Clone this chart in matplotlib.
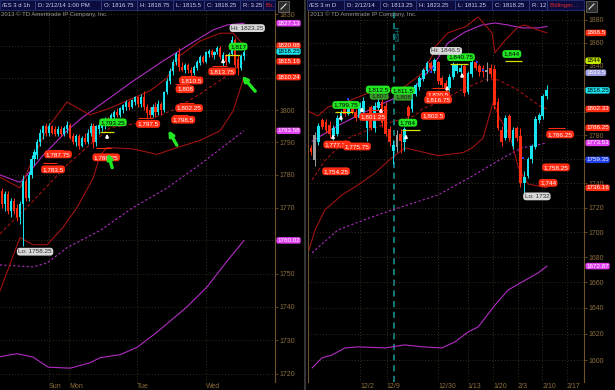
import matplotlib.pyplot as plt
from matplotlib import transforms
from matplotlib.lines import Line2D
from matplotlib.patches import Rectangle
from matplotlib.ticker import FixedLocator, NullLocator, FuncFormatter

plt.rcParams['font.family'] = ['Liberation Sans', 'DejaVu Sans']

# ---------------- left chart: /ES 3 d 1h ----------------
l_open = [1775, 1771, 1774, 1769, 1772, 1770, 1767, 1771, 1778, 1773,
          1780, 1785, 1786, 1790, 1793, 1795, 1793, 1795, 1794, 1792.5,
          1794, 1792.5, 1794, 1795.5, 1792, 1790, 1792, 1789, 1791.5, 1790,
          1793, 1795, 1790, 1794, 1794.5, 1795, 1797, 1796, 1798, 1799.5,
          1798.5, 1800, 1801, 1802.5, 1801, 1802.5, 1804, 1802, 1804, 1801,
          1800, 1798.5, 1801, 1799.5, 1802, 1800, 1805.5, 1809, 1812, 1815,
          1817.5, 1813.5, 1812.5, 1814, 1812.5, 1811.5, 1813, 1814.5, 1816.5, 1815,
          1817.5, 1818.5, 1817, 1818, 1819.5, 1815, 1817, 1815, 1817.5, 1822,
          1816, 1813, 1816.75]
l_high = [1776, 1775, 1775, 1773, 1773, 1771, 1772, 1780, 1779, 1781,
          1786, 1788, 1791, 1794, 1795.5, 1796, 1796, 1795.5, 1795, 1795,
          1795, 1795, 1796.5, 1796, 1793, 1792.5, 1792.5, 1792, 1793, 1794,
          1796, 1796, 1795.5, 1796, 1797, 1798, 1798, 1799, 1800, 1800.5,
          1801, 1802, 1803, 1803, 1803.5, 1804.5, 1804.5, 1805, 1806, 1802,
          1801, 1802, 1802.5, 1803, 1802.5, 1806, 1810, 1813, 1816, 1818,
          1819.5, 1815, 1814.5, 1814.5, 1813.5, 1814, 1815.5, 1817, 1817, 1818.5,
          1819, 1819, 1818.5, 1820, 1820, 1818, 1817.5, 1818, 1823.25, 1822.5,
          1817, 1817.5, 1818.75]
l_low = [1770, 1769, 1768, 1767, 1768, 1766, 1765, 1758.25, 1772, 1772,
         1779, 1783, 1785, 1789, 1791, 1792, 1792, 1792.5, 1792, 1792,
         1792, 1792, 1793, 1791, 1789.5, 1789, 1788, 1788.5, 1789.5, 1789.5,
         1792, 1788.25, 1789, 1792.5, 1793.5, 1794, 1795, 1795.5, 1797, 1798,
         1798, 1799, 1800, 1800, 1800.5, 1801.5, 1801, 1801, 1800, 1797.5,
         1797.5, 1798, 1798, 1798.5, 1798.5, 1799.5, 1805, 1808, 1811, 1814,
         1812, 1812, 1811.5, 1811.5, 1810.5, 1811, 1812.5, 1814, 1814.5, 1814.5,
         1816.5, 1816.5, 1816, 1817.5, 1816, 1813.75, 1814, 1814.5, 1817, 1813,
         1811, 1812.5, 1815.5]
l_close = [1771, 1774, 1769, 1772, 1769, 1767, 1771, 1778, 1773, 1780,
           1785, 1787, 1790, 1793, 1795, 1793, 1795, 1793, 1792.5, 1794,
           1792.5, 1794.5, 1795.5, 1791.5, 1790, 1792, 1789, 1791.5, 1790, 1793,
           1795, 1790, 1795, 1795.5, 1796.5, 1797, 1796, 1798.5, 1799.5, 1798.5,
           1800.5, 1801.5, 1802.5, 1801, 1803, 1804, 1802, 1804, 1801, 1799,
           1798.5, 1801, 1799.5, 1802, 1800, 1805.5, 1809, 1812, 1815, 1817.5,
           1813.5, 1812.5, 1814, 1812.5, 1811.5, 1813.5, 1815, 1816.5, 1815, 1818,
           1818.5, 1817, 1818, 1819.5, 1816.5, 1817, 1815, 1817.5, 1822, 1814,
           1813, 1816.75, 1818.25]

# bollinger (dark red) and wider band (magenta), read at a few bars
l_bb_up_x = [-0.7, 6.1, 10.5, 15.3, 22.0, 29.8, 36.6, 44.4, 50.2, 55.9, 60.3, 67.1, 73.9, 78.3, 82.0]
l_bb_up = [1779.3, 1776, 1785, 1794.3, 1802.5, 1798.5, 1800.6, 1803.7, 1806, 1810, 1817, 1821.5, 1824, 1824, 1820.08]
l_bb_mid_x = [-0.7, 10.5, 22.0, 27.5, 36.6, 46.8, 58.0, 67.1, 78.3, 82.0]
l_bb_mid = [1762, 1772, 1783, 1787.5, 1794.5, 1796, 1800, 1805, 1812, 1815.16]
l_bb_lo_x = [-0.7, 6.1, 10.5, 15.3, 20.7, 25.4, 30.9, 33.2, 35.6, 44.4, 52.5, 59.3, 67.1, 73.9, 78.3, 82.0]
l_bb_lo = [1744.7, 1760.9, 1758.7, 1758.7, 1764, 1770, 1779, 1786, 1788.4, 1788, 1786.3, 1788.4, 1790.6, 1793.6, 1799.7, 1810.24]
l_ma_up_x = [-0.7, 6.1, 8.5, 13.9, 22.0, 27.1, 33.2, 44.4, 54.6, 62.7, 71.5, 76.3, 82.0]
l_ma_up = [1780, 1777.7, 1780, 1786, 1793.6, 1797.6, 1801.6, 1809, 1815.3, 1820, 1825, 1826.6, 1827.13]
l_ma_mid_x = [-0.7, 10.5, 15.3, 22.0, 33.2, 44.4, 55.9, 67.1, 82.0]
l_ma_mid = [1752.6, 1752, 1753.2, 1757.8, 1763, 1770, 1776, 1783.2, 1793.58]
l_ma_lo_x = [-0.7, 5.1, 10.5, 15.6, 23.1, 29.8, 33.2, 40.0, 45.8, 52.5, 62.7, 69.5, 76.3, 80.0, 82.0]
l_ma_lo = [1725.1, 1726, 1725, 1722, 1721.7, 1723.3, 1724.8, 1725.7, 1727.9, 1732.4, 1740, 1746, 1753.8, 1757.8, 1760.02]

l_yticks = [1720, 1730, 1740, 1750, 1760, 1770, 1780, 1790, 1800, 1810, 1820, 1830]
l_yhidden = [1760, 1810, 1820]
l_days = ['Sun', 'Mon', 'Tue', 'Wed']
l_day_pos = [15.9, 22.7, 45.8, 69.2]

l_red_text = ['1,787.75', '1,783.5', '1,788.25', '1,797.5', '1,798.5', '1,802.25', '1,808', '1,810.5', '1,813.75']
l_red_pos = [(19.0, 1786.3), (17.3, 1781.7), (35.3, 1785.4), (49.5, 1795.7), (61.4, 1797.0),
             (63.4, 1800.6), (62.0, 1806.5), (64.1, 1809.2), (74.6, 1812.0)]
l_green_text = ['1,793.25', '1,817']
l_green_val = [1793.25, 1817]
l_green_pos = [(37.6, 1796.2), (80.0, 1819.8)]
l_tags = ['1827.13', '1820.08', '1818.25', '1815.16', '1810.24', '1793.58', '1760.02']
l_tag_val = [1827.13, 1820.08, 1818.25, 1815.16, 1810.24, 1793.58, 1760.02]
l_tag_col = ['mag', 'red', 'cyan', 'red', 'red', 'mag', 'mag']

# ---------------- right chart: /ES 3 m D ----------------
r_open = [1769, 1759, 1774, 1793, 1791, 1789, 1779, 1781, 1794, 1803,
          1798, 1806, 1800, 1795, 1800, 1786, 1804, 1786, 1803, 1808,
          1805, 1785, 1767, 1770, 1781, 1774, 1804, 1802, 1815, 1821,
          1828, 1835, 1842, 1835, 1843, 1829, 1825, 1820, 1830, 1835,
          1834, 1839, 1817, 1832, 1843, 1839, 1838, 1834, 1838, 1837,
          1808, 1784, 1778, 1796, 1771, 1786, 1779, 1740, 1746, 1760,
          1770, 1793, 1796, 1813.25]
r_high = [1772, 1783, 1790, 1795, 1794, 1792, 1789, 1797, 1801, 1805,
          1810, 1808, 1802, 1808, 1812.5, 1799, 1806, 1808, 1812, 1811,
          1808, 1788, 1776, 1784, 1785, 1787, 1806, 1817, 1825, 1831,
          1838, 1844, 1844, 1846.5, 1844, 1831, 1827, 1832, 1843, 1842,
          1840.75, 1841, 1835, 1845, 1845, 1841, 1840, 1843, 1841, 1840,
          1812, 1788, 1797, 1798, 1787, 1788, 1786.25, 1750, 1762, 1773,
          1796, 1799, 1815, 1823.25]
r_low = [1763, 1754.25, 1772, 1785, 1782, 1777.75, 1775.75, 1779, 1792, 1796,
         1797, 1798, 1792, 1793, 1798, 1775, 1784, 1783, 1801.25, 1787,
         1779, 1771, 1756, 1766, 1765, 1767, 1793, 1800, 1813, 1819,
         1826, 1833, 1835, 1833, 1824, 1821, 1816.75, 1818, 1828, 1833,
         1831, 1813, 1815, 1830, 1836, 1831, 1830, 1826, 1829, 1802,
         1784, 1771, 1776, 1775, 1768, 1775, 1737, 1732, 1744, 1757,
         1768, 1790, 1794, 1811.25]
r_close = [1765.5, 1780, 1788, 1787, 1784, 1781, 1786, 1795, 1799.75, 1798,
           1806, 1800, 1795, 1806, 1809, 1797, 1786, 1805, 1808, 1790,
           1781, 1774, 1772, 1780, 1775, 1785, 1796, 1815, 1823, 1829,
           1836, 1842, 1838, 1844.5, 1826, 1823, 1820.5, 1830, 1841, 1840,
           1838, 1816, 1833, 1843, 1838, 1834, 1834, 1836, 1832, 1806,
           1786, 1774, 1795, 1778, 1784, 1778, 1740, 1745, 1760, 1771,
           1794, 1797, 1813, 1818.25]
r_gray = [1, 23, 47]

r_bb_up_x = [-0.8, 1.9, 4.5, 9.9, 16.3, 19.8, 25.1, 29.7, 32.4, 33.2, 36.6, 41.2, 44.7, 48.4, 49.2, 51.9, 55.4, 57.2, 60.7, 63.1]
r_bb_up = [1800.5, 1796.4, 1803.9, 1808.9, 1817.3, 1816.4, 1821.5, 1833, 1848, 1856.2, 1868.5, 1873.8, 1882.7, 1868.5, 1851, 1862, 1873.8, 1875.5, 1871, 1868.5]
r_bb_mid_x = [0.3, 3.7, 9.9, 16.3, 21.7, 27.8, 29.7, 34.0, 40.4, 46.5, 50.0, 55.1, 61.2, 63.1]
r_bb_mid = [1742.6, 1758.7, 1777.5, 1785.6, 1791.4, 1796.4, 1802.2, 1808.1, 1819, 1827.4, 1827.4, 1819, 1804.7, 1802.33]
r_bb_lo_x = [-0.8, 1.1, 3.7, 8.3, 12.6, 17.1, 21.7, 25.1, 29.7, 34.0, 40.6, 43.1, 46.0, 48.7, 50.5, 53.2, 55.4, 58.0, 63.1]
r_bb_lo = [1683.4, 1701.8, 1718, 1730.3, 1738.5, 1748.4, 1761.2, 1769.3, 1766, 1762.8, 1765.3, 1769.3, 1777.5, 1808.1, 1793.9, 1779.9, 1753.1, 1739.4, 1736.16]
r_ma_up_x = [0.3, 7.2, 14.4, 21.7, 27.8, 32.4, 36.6, 41.2, 45.7, 49.2, 52.7, 56.4, 60.7, 63.1]
r_ma_up = [1775, 1788.1, 1799.7, 1810.6, 1821.5, 1838.6, 1859.6, 1869.3, 1875.5, 1877.3, 1875.5, 1872.9, 1872.9, 1874.15]
r_ma_mid_x = [0.3, 7.2, 16.3, 21.7, 34.0, 43.1, 51.9, 56.4, 63.1]
r_ma_mid = [1683.4, 1701.8, 1712.3, 1718, 1730.3, 1745.8, 1762, 1769.3, 1773.51]
r_ma_lo_x = [0.3, 2.9, 5.6, 9.1, 12.6, 19.8, 25.1, 29.7, 35.0, 38.5, 42.0, 44.7, 49.2, 52.7, 56.4, 60.7, 63.1]
r_ma_lo = [1594, 1601.6, 1603.8, 1609.2, 1610, 1609.2, 1611.5, 1610, 1609.2, 1613.8, 1621.4, 1625.3, 1642.3, 1654, 1660.3, 1667.4, 1672.87]

r_yticks = [1600, 1620, 1640, 1660, 1680, 1700, 1720, 1740, 1760, 1780, 1800, 1820, 1840, 1860, 1880]
r_yhidden = [1760, 1800, 1820]
r_dates = ['12/2', '12/9', '12/30', '1/13', '1/20', '2/3', '2/10', '2/17']
r_date_pos = [13.1, 20.2, 34.0, 41.9, 48.7, 55.35, 61.8, 68.45]
r_roll_pos = 22.2

r_red_text = ['1,777.75', '1,775.75', '1,754.25', '1,801.25', '1,802.5', '1,820.5', '1,816.75',
              '1,786.25', '1,758.25', '1,744']
r_red_pos = [(7.0, 1772.1), (12.3, 1770.5), (6.7, 1749.8), (16.6, 1795.5), (32.6, 1796.4),
             (34.0, 1814.4), (34.0, 1810.2), (66.6, 1780.7), (65.5, 1753.1), (63.4, 1740.2)]
r_green_text = ['1,799.75', '1,812.5', '1,811.5', '1,784', '1,840.75', '1,844']
r_green_val = [1799.75, 1812.5, 1811.5, 1784, 1840.75, 1844]
r_green_pos = [(9.4, 1805.7), (17.9, 1819.0), (24.6, 1818.2), (25.9, 1790.6), (40.1, 1847.1), (53.7, 1849.9)]
r_green_span = [(6.4, 11.2), (16.3, 20.6), (23.0, 25.9), (24.3, 29.1), (37.2, 42.0), (51.9, 56.4)]
r_dim_text = ['1,807', '1,808']
r_dim_pos = [(18.2, 1813.6), (24.6, 1812.8)]
r_dots_x = [9.9, 32.1, 32.6, 44.3, 46.0, 56.8]
r_dots_y = [1810.6, 1834.3, 1837.7, 1842.9, 1836.0, 1761.2]
r_tags = ['1868.5', '1844', '1833.5', '1818.25', '1802.33', '1786.25', '1773.51', '1759.35', '1736.16', '1672.87']
r_tag_val = [1868.5, 1844, 1833.5, 1818.25, 1802.33, 1786.25, 1773.51, 1759.35, 1736.16, 1672.87]
r_tag_col = ['red', 'yel', 'lav', 'cyan', 'red', 'red', 'mag', 'blue', 'red', 'mag']

W, H = 615, 390
GRID = '#4a3b24'
AXC = '#6e5228'
TXT = '#8c6e3c'
CYAN = '#19e3ee'
RED = '#ff2c12'
GRAY = '#9c9c9c'
BBRED = '#a01212'
MAG = '#b22cc4'
GREEN = '#22e622'
TAGC = {'red': (RED, 'white'), 'cyan': (CYAN, 'black'), 'mag': ('#e040f0', 'white'),
        'yel': ('#c8ec00', 'black'), 'lav': ('#9c9ce0', 'white'), 'blue': ('#2040e8', 'white')}

fig = plt.figure(figsize=(W / 100, H / 100), dpi=100, facecolor='black')
axL = fig.add_axes([0, 8 / H, 275 / W, 372 / H])
axR = fig.add_axes([308 / W, 8 / H, 276 / W, 372 / H])


def setup(ax, yticks, hidden, ylim, xlim, xt, xl):
    ax.set_facecolor('black')
    ax.set_yscale('log')
    ax.set_ylim(*ylim)
    ax.set_xlim(*xlim)
    ax.yaxis.set_major_locator(FixedLocator(yticks))
    ax.yaxis.set_minor_locator(NullLocator())
    ax.yaxis.set_major_formatter(FuncFormatter(
        lambda v, p: '' if round(v) in hidden else '%d' % round(v)))
    ax.yaxis.tick_right()
    ax.tick_params(axis='y', colors=AXC, labelcolor=TXT, labelsize=5, length=2.5, width=0.6, pad=1)
    ax.set_xticks(xt)
    ax.set_xticklabels(xl)
    ax.tick_params(axis='x', length=0, labelcolor=TXT, labelsize=5, pad=1)
    for t in ax.get_xticklabels():
        t.set_ha('left')
    ax.grid(True, color=GRID, lw=0.6, ls=(0, (1, 2.5)))
    for s in ['top', 'bottom']:
        ax.spines[s].set_visible(False)
    ax.spines['right'].set_color(AXC)
    ax.spines['left'].set_color(AXC)


def candles(ax, o, h, l, c, width, gray=()):
    x = list(range(len(o)))
    cols = [GRAY if i in gray else (CYAN if c[i] >= o[i] else RED) for i in x]
    ax.vlines(x, l, h, colors=cols, lw=0.7, zorder=3)
    bottoms = [min(a, b) for a, b in zip(o, c)]
    heights = [max(abs(b - a), 0.3) for a, b in zip(o, c)]
    ax.bar(x, heights, width, bottom=bottoms, color=cols, lw=0, zorder=4)


def box(ax, x, y, s, fc, tc, z=8):
    ax.text(x, y, s, fontsize=4.6, color=tc, ha='center', va='center', zorder=z,
            bbox=dict(boxstyle='round,pad=0.22,rounding_size=0.5', fc=fc, ec='none'))


def axis_tags(ax, texts, vals, cols, off):
    tr = transforms.blended_transform_factory(ax.transAxes, ax.transData)
    for s, v, c in zip(texts, vals, cols):
        fc, tc = TAGC[c]
        ax.text(off, v, s, transform=tr, fontsize=4.5, color=tc, ha='left', va='center',
                clip_on=False, zorder=9,
                bbox=dict(boxstyle='round,pad=0.12,rounding_size=0.3', fc=fc, ec='none'))


# ---- left ----
setup(axL, l_yticks, l_yhidden, (1717.6, 1831.3), (-0.68, 92.5), l_day_pos, l_days)
axL.spines['left'].set_visible(False)
axL.plot(l_ma_up_x, l_ma_up, color=MAG, lw=0.8, zorder=2)
axL.plot(l_ma_mid_x, l_ma_mid, color=MAG, lw=0.8, ls=(0, (2, 2)), zorder=2)
axL.plot(l_ma_lo_x, l_ma_lo, color=MAG, lw=0.8, zorder=2)
axL.plot(l_bb_up_x, l_bb_up, color=BBRED, lw=0.8, zorder=2)
axL.plot(l_bb_mid_x, l_bb_mid, color=BBRED, lw=0.8, ls=(0, (3, 2)), zorder=2)
axL.plot(l_bb_lo_x, l_bb_lo, color=BBRED, lw=0.8, zorder=2)
candles(axL, l_open, l_high, l_low, l_close, 0.7)

for (x, y), s in zip(l_red_pos, l_red_text):
    box(axL, x, y, s, RED, 'white')
    v = float(s.replace(',', ''))
    axL.hlines(v, x - 3.5, x + 1.5, color=RED, lw=0.8, zorder=5)
for (x, y), s, v in zip(l_green_pos, l_green_text, l_green_val):
    box(axL, x, y, s, GREEN, 'black')
    axL.hlines(v, x - 4.5, x + 0.5, color='#d8e000', lw=0.9, zorder=5)
box(axL, 83.1, 1825.6, 'Hi: 1823.25', '#d8d8d8', '#303030')
box(axL, 11.2, 1756.6, 'Lo: 1758.25', '#d8d8d8', '#303030')
for xt, yt, xh, yh in [(37.6, 1781.4, 35.6, 1787.5), (59.7, 1788.4, 55.9, 1794.5), (86.4, 1805.2, 80.7, 1811.3)]:
    axL.annotate('', xy=(xh, yh), xytext=(xt, yt), zorder=9,
                 arrowprops=dict(arrowstyle='-|>', color=GREEN, lw=2.4, mutation_scale=7))
for x, y in [(35.6, 1793.5), (74.9, 1817.0)]:
    axL.annotate('', xy=(x, y), xytext=(0, -7), textcoords='offset points', zorder=9,
                 arrowprops=dict(arrowstyle='-|>', color='white', lw=1.2, mutation_scale=4))
axis_tags(axL, l_tags, l_tag_val, l_tag_col, 1.008)
axL.text(0.004, 0.989, '2013 \u00a9 TD Ameritrade IP Company, Inc.', transform=axL.transAxes,
         fontsize=4.3, color='#9a9a9a', va='center', ha='left')

# ---- right ----
setup(axR, r_yticks, r_yhidden, (1583.4, 1888.9), (-0.8, 73.0), r_date_pos, r_dates)
axR.plot(r_ma_up_x, r_ma_up, color=MAG, lw=0.8, zorder=2)
axR.plot(r_ma_mid_x, r_ma_mid, color=MAG, lw=0.8, ls=(0, (2, 2)), zorder=2)
axR.plot(r_ma_lo_x, r_ma_lo, color=MAG, lw=0.8, zorder=2)
axR.plot(r_bb_up_x, r_bb_up, color=BBRED, lw=0.8, zorder=2)
axR.plot(r_bb_mid_x, r_bb_mid, color=BBRED, lw=0.8, ls=(0, (3, 2)), zorder=2)
axR.plot(r_bb_lo_x, r_bb_lo, color=BBRED, lw=0.8, zorder=2)
axR.axvline(r_roll_pos, color='#1a9a9a', lw=1.1, ls=(0, (4, 3)), zorder=1)
axR.text(r_roll_pos + 1.1, 1868, 'ESH4', rotation=90, fontsize=4.3, color='#1a9a9a', va='center', ha='center')
candles(axR, r_open, r_high, r_low, r_close, 0.75, r_gray)
axR.scatter(r_dots_x, r_dots_y, s=3, marker='s', color='#2040ff', lw=0, zorder=6)

for (x, y), s in zip(r_red_pos, r_red_text):
    box(axR, x, y, s, RED, 'white')
axR.hlines(1786.25, 63.4, 67.9, color=RED, lw=0.8, zorder=5)
axR.hlines(1801.25, 15.2, 20.3, color=RED, lw=0.8, zorder=5)
axR.hlines(1820.5, 32.4, 36.6, color=RED, lw=0.8, zorder=5)
for (x, y), s in zip(r_dim_pos, r_dim_text):
    box(axR, x, y, s, '#3a9a2a', '#102010', z=7)
for (x, y), s, v, (a, b) in zip(r_green_pos, r_green_text, r_green_val, r_green_span):
    box(axR, x, y, s, GREEN, 'black')
    axR.hlines(v, a, b, color='#d8e000', lw=0.9, zorder=5)
box(axR, 36.1, 1852.6, 'Hi: 1846.5', '#d8d8d8', '#303030')
box(axR, 60.4, 1729.1, 'Lo: 1732', '#d8d8d8', '#303030')
for x, y in [(5.9, 1783.2), (8.0, 1799.7), (13.6, 1806.4), (18.7, 1805.6), (25.4, 1783.2), (36.4, 1824.9), (40.4, 1836.0)]:
    axR.annotate('', xy=(x, y), xytext=(0, -7), textcoords='offset points', zorder=9,
                 arrowprops=dict(arrowstyle='-|>', color='white', lw=1.2, mutation_scale=4))
axis_tags(axR, r_tags, r_tag_val, r_tag_col, 1.008)
axR.text(0.007, 0.989, '2013 \u00a9 TD Ameritrade IP Company, Inc.', transform=axR.transAxes,
         fontsize=4.3, color='#9a9a9a', va='center', ha='left')

# ---- header bars and frame bits ----
fig.add_artist(Line2D([304.5 / W, 304.5 / W], [0, 1], color='#353535', lw=1.5))
for x0, w in [(0, 275), (307, 277)]:
    fig.add_artist(Rectangle((x0 / W, 1 - 10 / H), w / W, 10 / H, fc='#0c0c40', ec='#2a3c88', lw=0.5))
for x0 in [278, 586]:
    fig.add_artist(Rectangle((x0 / W, 1 - 12 / H), 11 / W, 11 / H, fc='#2c2c2c', ec='#777777', lw=0.5))
    fig.add_artist(Line2D([(x0 + 3) / W, (x0 + 8) / W], [1 - 9 / H, 1 - 4 / H], color='#dddddd', lw=0.8))

hdr_left = ['/ES 3 d 1h', 'D: 2/12/14 1:00 PM', 'O: 1816.75', 'H: 1818.75', 'L: 1815.5', 'C: 1818.25', 'R: 3.25', 'Bo..']
hdr_left_x = [2, 38, 104, 140, 176, 207, 243, 266]
hdr_right = ['/ES 3 m D', 'D: 2/12/14', 'O: 1813.25', 'H: 1823.25', 'L: 1811.25', 'C: 1818.25', 'R: 12', 'Bollinger...']
hdr_right_x = [309, 347, 383, 419, 458, 495, 532, 550]
for texts, xs in [(hdr_left, hdr_left_x), (hdr_right, hdr_right_x)]:
    for i, (s, x) in enumerate(zip(texts, xs)):
        col = '#e02828' if i == len(texts) - 1 else '#c8d0f4'
        fig.text(x / W, 1 - 5.5 / H, s, fontsize=4.3, color=col, va='center', ha='left')
        if i > 0:
            fig.add_artist(Line2D([(x - 3) / W] * 2, [1 - 9 / H, 1 - 1 / H], color='#4050a0', lw=0.5))

fig.savefig('out.png', dpi=100, facecolor='black')
